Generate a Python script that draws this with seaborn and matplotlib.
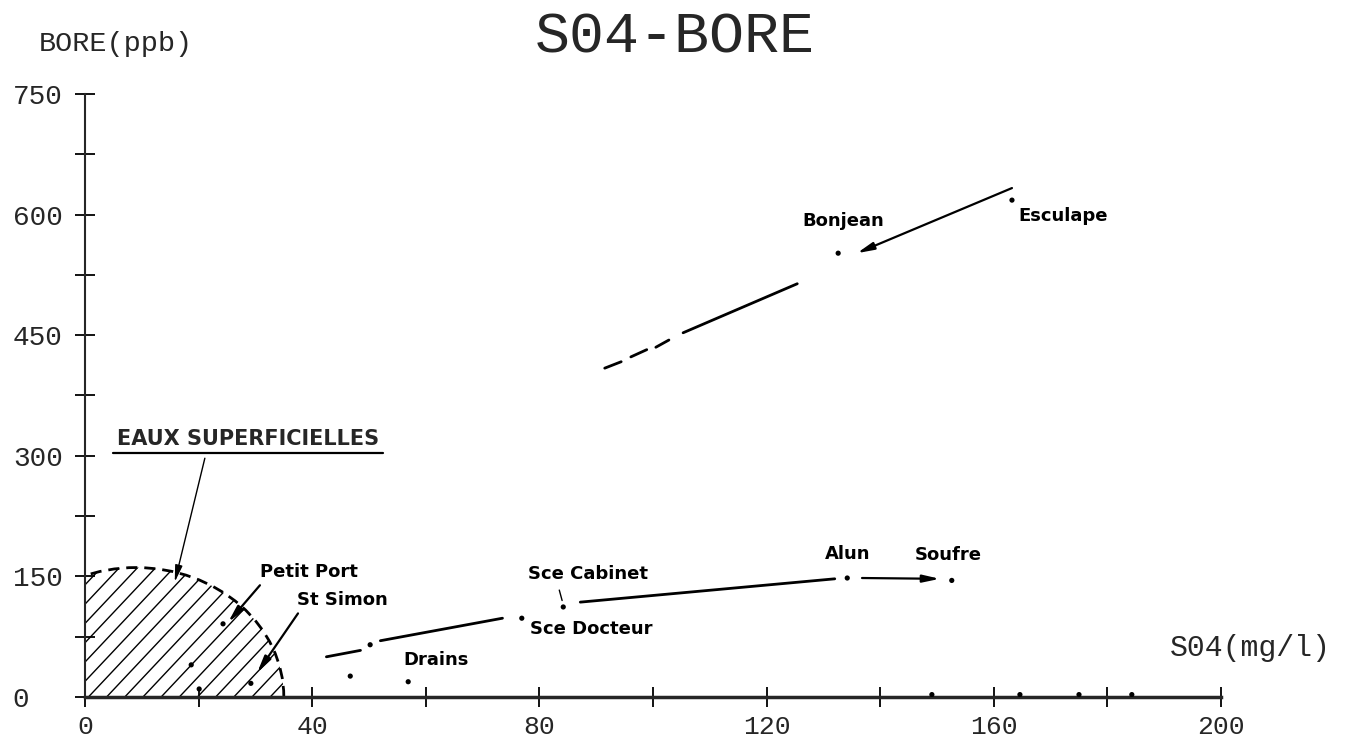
import numpy as np
import matplotlib
matplotlib.use("Agg")
import matplotlib.pyplot as plt
from matplotlib.patches import Arc, Ellipse
import seaborn as sns

# samples: SO4 (mg/l) vs bore (ppb)
so4 = [163.2, 132.6, 134.2, 152.6, 84.2, 76.9, 50.2, 46.7, 56.9,
       24.3, 18.7, 20.1, 29.2, 149.1, 164.6, 175.0, 184.3]
bore = [618, 552, 148, 145, 112, 98, 65, 26, 19,
        91, 40, 10, 17, 3, 3, 3, 3]

# upper trend (dashed start, then solid), NaN = pen up
upper_x = [91.5, 94.4, np.nan, 96.1, 98.9, np.nan, 100.5, 102.8, np.nan, 105.3, 125.4]
upper_y = [409, 417, np.nan, 423, 432, np.nan, 435, 444, np.nan, 453, 514]

# lower trend
lower_x = [42.5, 48.5, np.nan, 52.0, 73.5, np.nan, 87.2, 132.0]
lower_y = [50, 58, np.nan, 70, 98, np.nan, 118, 147]

# surface water zone (ellipse centre / half axes)
zone_cx, zone_rx, zone_ry = 9, 26, 161

x_ticks = [0, 40, 80, 120, 160, 200]
y_ticks = [0, 150, 300, 450, 600, 750]

sns.set_style("ticks")
plt.rcParams['font.family'] = ['DejaVu Sans']

fig = plt.figure(figsize=(13.45, 7.43), dpi=100)
ax = fig.add_axes([0.0632, 0.0619, 0.8446, 0.8116])

sns.scatterplot(x=so4, y=bore, ax=ax, color='black', s=14, edgecolor='none', zorder=5)

ax.plot(upper_x, upper_y, color='black', lw=2)
ax.plot(lower_x, lower_y, color='black', lw=2)

arrow = dict(arrowstyle='-|>,head_length=1.0,head_width=0.22', color='black', lw=1.6,
             shrinkA=0, shrinkB=0)
ax.annotate('', xy=(135.9, 552), xytext=(163.2, 633), arrowprops=arrow)
ax.annotate('', xy=(150.5, 147), xytext=(136.8, 148), arrowprops=arrow)

# hatched surface water zone
clip = Ellipse((zone_cx, 0), 2 * zone_rx, 2 * zone_ry, facecolor='none', edgecolor='none')
ax.add_patch(clip)
for c in np.arange(-25, 40, 3.2):
    ln, = ax.plot([c, c + 25], [0, 7.5 * 25], color='black', lw=1)
    ln.set_clip_path(clip)
ax.add_patch(Arc((zone_cx, 0), 2 * zone_rx, 2 * zone_ry, theta1=0, theta2=180,
                 color='black', lw=2, linestyle=(0, (4, 2.5))))

# labels
lab = dict(fontsize=13, fontweight='bold', color='black')
ax.text(133.5, 592, 'Bonjean', ha='center', va='center', **lab)
ax.text(164.3, 598, 'Esculape', ha='left', va='center', **lab)
ax.text(134.2, 178, 'Alun', ha='center', va='center', **lab)
ax.text(152.0, 176, 'Soufre', ha='center', va='center', **lab)
ax.text(78.0, 153, 'Sce Cabinet', ha='left', va='center', **lab)
ax.plot([83.5, 84.0], [133, 120], color='black', lw=1)
ax.text(78.3, 84, 'Sce Docteur', ha='left', va='center', **lab)
ax.text(56.0, 46, 'Drains', ha='left', va='center', **lab)
ax.text(30.8, 155, 'Petit Port', ha='left', va='center', **lab)
ax.text(37.3, 121, 'St Simon', ha='left', va='center', **lab)
ax.annotate('', xy=(25.2, 93), xytext=(30.8, 139), arrowprops=arrow)
ax.annotate('', xy=(30.3, 30), xytext=(37.5, 104), arrowprops=arrow)

ax.text(5.6, 321, 'EAUX SUPERFICIELLES', ha='left', va='center', fontsize=15,
        fontweight='bold')
ax.plot([4.9, 52.5], [303, 303], color='black', lw=1.6)
ax.annotate('', xy=(15.8, 143), xytext=(21.1, 297),
            arrowprops=dict(arrowstyle='-|>,head_length=1.0,head_width=0.22',
                            color='black', lw=1, shrinkA=0, shrinkB=0))

# axes
ax.set_xlim(0, 200)
ax.set_ylim(0, 750)
sns.despine(ax=ax)
ax.spines['bottom'].set_linewidth(2.5)
ax.spines['left'].set_linewidth(1.5)

ax.set_xticks(x_ticks)
ax.set_xticks([20, 60, 100, 140, 180], minor=True)
ax.set_yticks(y_ticks)
ax.set_yticks([75, 225, 375, 525, 675], minor=True)
ax.set_xticklabels([str(v) for v in x_ticks], fontfamily='Liberation Mono', fontsize=19)
ax.set_yticklabels([str(v) for v in y_ticks], fontfamily='Liberation Mono', fontsize=20)
for t in ax.get_yticklabels():
    t.set_horizontalalignment('left')
ax.tick_params(which='both', direction='inout', length=14, width=1.3, color='black')
ax.tick_params(axis='y', pad=45)
ax.tick_params(axis='x', pad=6)

fig.text(0.502, 0.950, 'S04-BORE', ha='center', va='center',
         fontfamily='Liberation Mono', fontsize=42)
fig.text(0.029, 0.941, 'BORE(ppb)', ha='left', va='center',
         fontfamily='Liberation Mono', fontsize=20.5)
fig.text(0.870, 0.128, 'S04(mg/l)', ha='left', va='center',
         fontfamily='Liberation Mono', fontsize=21.5)

fig.savefig('out.png', dpi=100)
